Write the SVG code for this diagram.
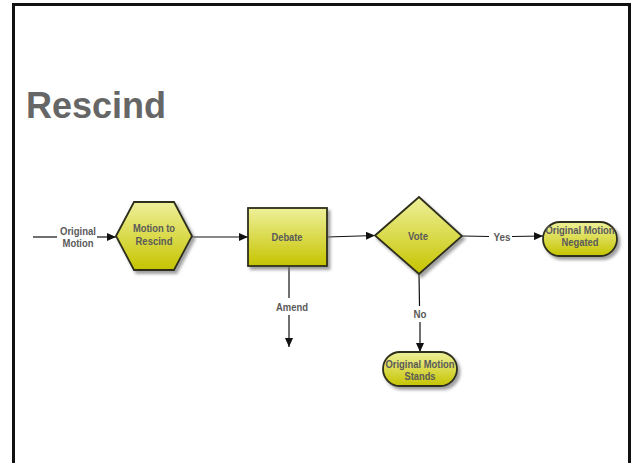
<svg xmlns="http://www.w3.org/2000/svg" width="632" height="463" viewBox="0 0 632 463">
  <defs>
    <linearGradient id="yg" x1="0" y1="0" x2="0" y2="1">
      <stop offset="0" stop-color="#eef09a"/>
      <stop offset="1" stop-color="#c6c400"/>
    </linearGradient>
    <filter id="sh" x="-20%" y="-20%" width="150%" height="150%">
      <feDropShadow dx="2.5" dy="3" stdDeviation="1.5" flood-color="#777" flood-opacity="0.7"/>
    </filter>
    <marker id="ah" markerWidth="9" markerHeight="8" refX="9" refY="4" orient="auto" markerUnits="userSpaceOnUse">
      <path d="M0,0 L9,4 L0,8 Z" fill="#111"/>
    </marker>
  </defs>
  <style>
    .node { fill: url(#yg); stroke: #2e2e1a; stroke-width: 1.8; filter: url(#sh); }
    .lbl { font-family: "Liberation Sans", Arial, sans-serif; font-weight: bold; font-size: 10.5px; fill: #5a5a5a; text-anchor: middle; }
    .edge { stroke: #111; stroke-width: 1.2; fill: none; }
    .title { font-family: "Liberation Sans", Arial, sans-serif; font-weight: bold; font-size: 36px; fill: #666666; }
  </style>
  <rect x="0" y="0" width="632" height="463" fill="#ffffff"/>
  <rect x="13.5" y="4.5" width="616" height="475" fill="none" stroke="#111" stroke-width="3"/>
  <text class="title" x="26" y="118">Rescind</text>

  <g id="connectors">
    <line class="edge" x1="33" y1="237" x2="57" y2="237"/>
    <line class="edge" x1="97" y1="237" x2="116" y2="237" marker-end="url(#ah)"/>
    <text class="lbl" x="78" y="235" textLength="36" lengthAdjust="spacingAndGlyphs">Original</text>
    <text class="lbl" x="78" y="247" textLength="31" lengthAdjust="spacingAndGlyphs">Motion</text>
    <line class="edge" x1="192" y1="237" x2="248" y2="237" marker-end="url(#ah)"/>
    <line class="edge" x1="327" y1="237" x2="375" y2="235.5" marker-end="url(#ah)"/>
    <line class="edge" x1="462" y1="236" x2="489" y2="236.5"/>
    <line class="edge" x1="512" y1="236.5" x2="543" y2="236" marker-end="url(#ah)"/>
    <text class="lbl" x="502" y="241" textLength="17" lengthAdjust="spacingAndGlyphs">Yes</text>
    <line class="edge" x1="289" y1="266" x2="289" y2="298"/>
    <line class="edge" x1="289" y1="315" x2="289" y2="347" marker-end="url(#ah)"/>
    <text class="lbl" x="292" y="311" textLength="32" lengthAdjust="spacingAndGlyphs">Amend</text>
    <line class="edge" x1="419" y1="274" x2="419.5" y2="306"/>
    <line class="edge" x1="420" y1="322" x2="420" y2="352" marker-end="url(#ah)"/>
    <text class="lbl" x="420" y="318" textLength="13" lengthAdjust="spacingAndGlyphs">No</text>
  </g>

  <g id="motion-to-rescind">
    <polygon class="node" points="116,236 134,202 174,202 192,236 174,270 134,270"/>
    <text class="lbl" x="154" y="232" textLength="42" lengthAdjust="spacingAndGlyphs">Motion to</text>
    <text class="lbl" x="154" y="245" textLength="37" lengthAdjust="spacingAndGlyphs">Rescind</text>
  </g>

  <g id="debate">
    <rect class="node" x="248" y="208" width="79" height="58"/>
    <text class="lbl" x="287" y="241" textLength="31" lengthAdjust="spacingAndGlyphs">Debate</text>
  </g>

  <g id="vote">
    <polygon class="node" points="375,235.5 419,197 462,236 419,274"/>
    <text class="lbl" x="418" y="240" textLength="20" lengthAdjust="spacingAndGlyphs">Vote</text>
  </g>

  <g id="original-motion-negated">
    <rect class="node" x="543" y="222" width="74" height="34" rx="17" ry="17"/>
    <text class="lbl" x="580" y="234" textLength="69" lengthAdjust="spacingAndGlyphs">Original Motion</text>
    <text class="lbl" x="580" y="246" textLength="37" lengthAdjust="spacingAndGlyphs">Negated</text>
  </g>

  <g id="original-motion-stands">
    <rect class="node" x="383" y="352" width="74" height="34" rx="17" ry="17"/>
    <text class="lbl" x="420" y="368" textLength="69" lengthAdjust="spacingAndGlyphs">Original Motion</text>
    <text class="lbl" x="420" y="380" textLength="31" lengthAdjust="spacingAndGlyphs">Stands</text>
  </g>
</svg>
